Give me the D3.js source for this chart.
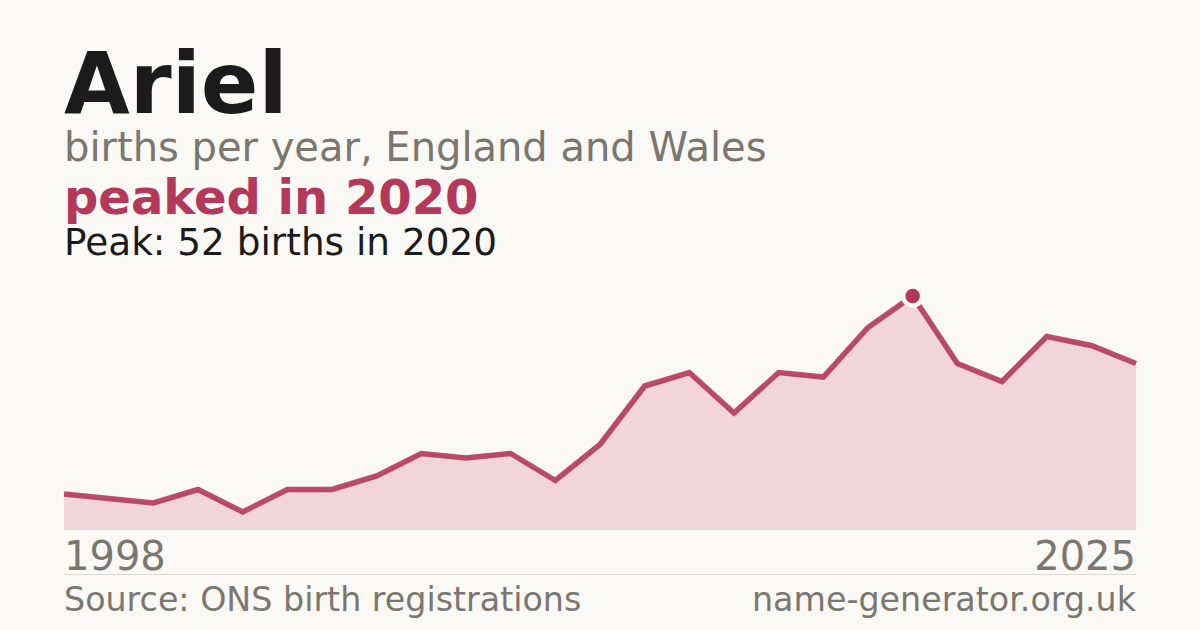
<!DOCTYPE html>
<html>
<head>
<meta charset="utf-8">
<script src="https://cdn.jsdelivr.net/npm/d3@7"></script>
<style>
  html, body { margin: 0; padding: 0; background: #faf9f5; }
  svg { display: block; font-family: "DejaVu Sans", sans-serif; }
</style>
</head>
<body>
<div id="chart"></div>
<script>
// years with registrations (a few early years had none recorded)
var years = [1998, 1999, 2001, 2002, 2004, 2005, 2007, 2008, 2009, 2010,
             2011, 2012, 2013, 2014, 2015, 2016, 2017, 2018, 2019, 2020,
             2021, 2022, 2023, 2024, 2025];
var births = [8, 7, 6, 9, 4, 9, 9, 12, 17, 16,
              17, 11, 19, 32, 35, 26, 35, 34, 45, 52,
              37, 33, 43, 41, 37];
var peakYear = 2020;
var peakValue = 52;
var axisLabels = ["1998", "2025"];

var width = 1200, height = 630;
var margin = { left: 64, right: 64 };
var chartTop = 296, chartBottom = 530;
var red = "#b3385a";
var grey = "#7b766e";

var svg = d3.select("#chart").append("svg")
  .attr("width", width)
  .attr("height", height);

svg.append("rect")
  .attr("width", width)
  .attr("height", height)
  .attr("fill", "#faf9f5");

// headings
svg.append("text")
  .attr("x", 64).attr("y", 113)
  .attr("font-size", 85).attr("font-weight", "bold")
  .attr("fill", "#1b1b1b")
  .text("Ariel");

svg.append("text")
  .attr("x", 64).attr("y", 161)
  .attr("font-size", 40)
  .attr("fill", grey)
  .text("births per year, England and Wales");

svg.append("text")
  .attr("x", 64).attr("y", 214)
  .attr("font-size", 48).attr("font-weight", "bold")
  .attr("fill", red)
  .text("peaked in " + peakYear);

svg.append("text")
  .attr("x", 64).attr("y", 255)
  .attr("font-size", 37.4)
  .attr("fill", "#1b1b1b")
  .text("Peak: " + peakValue + " births in " + peakYear);

// scales
var x = d3.scalePoint()
  .domain(years)
  .range([margin.left, width - margin.right]);

var y = d3.scaleLinear()
  .domain([0, d3.max(births)])
  .range([chartBottom, chartTop]);

var data = years.map(function(yr, i) { return { year: yr, value: births[i] }; });

var area = d3.area()
  .x(d => x(d.year))
  .y0(chartBottom)
  .y1(d => y(d.value));

var line = d3.line()
  .x(d => x(d.year))
  .y(d => y(d.value));

svg.append("path")
  .datum(data)
  .attr("d", area)
  .attr("fill", "#f1d5da");

svg.append("path")
  .datum(data)
  .attr("d", line)
  .attr("fill", "none")
  .attr("stroke", red)
  .attr("stroke-opacity", 0.9)
  .attr("stroke-width", 5.5);

// peak marker
var peak = data.find(d => d.year === peakYear);
svg.append("circle")
  .attr("cx", x(peak.year))
  .attr("cy", y(peak.value))
  .attr("r", 9.5)
  .attr("fill", red)
  .attr("stroke", "#faf9f5")
  .attr("stroke-width", 4.5);

// year labels
svg.append("text")
  .attr("x", margin.left).attr("y", 570)
  .attr("font-size", 40).attr("fill", grey)
  .text(axisLabels[0]);

svg.append("text")
  .attr("x", width - margin.right).attr("y", 570)
  .attr("text-anchor", "end")
  .attr("font-size", 40).attr("fill", grey)
  .text(axisLabels[1]);

svg.append("line")
  .attr("x1", margin.left).attr("x2", width - margin.right)
  .attr("y1", 574.5).attr("y2", 574.5)
  .attr("stroke", "#dcd9d3").attr("stroke-width", 1);

// footer
svg.append("text")
  .attr("x", margin.left).attr("y", 611)
  .attr("font-size", 33.3).attr("fill", grey)
  .text("Source: ONS birth registrations");

svg.append("text")
  .attr("x", width - margin.right).attr("y", 611)
  .attr("text-anchor", "end")
  .attr("font-size", 33.3).attr("fill", grey)
  .text("name-generator.org.uk");
</script>
</body>
</html>
